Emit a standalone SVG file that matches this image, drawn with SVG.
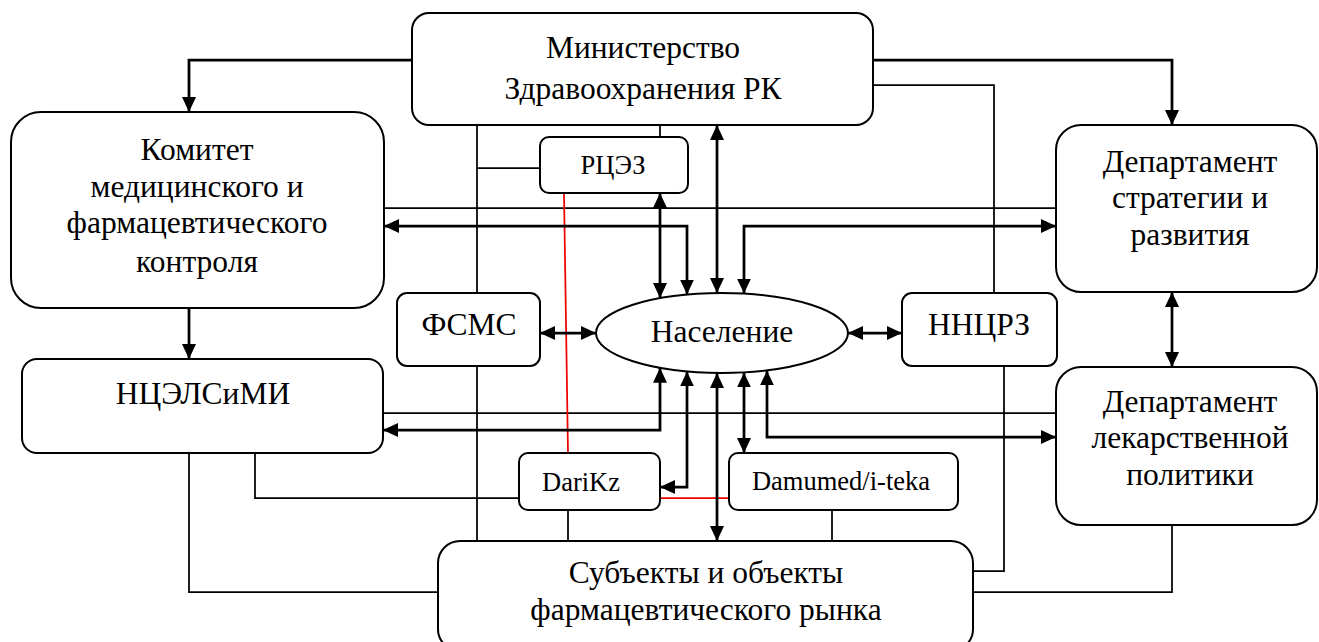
<svg xmlns="http://www.w3.org/2000/svg" width="1319" height="642" viewBox="0 0 1319 642">
<defs>
<marker id="ah" markerUnits="userSpaceOnUse" markerWidth="16" markerHeight="14" refX="15" refY="7" orient="auto-start-reverse" viewBox="0 0 16 14">
<path d="M0,0 L15,7 L0,14 z" fill="#000"/>
</marker>
</defs>
<style>
.box{fill:#fff;stroke:#000;stroke-width:2}
.t{font-family:"Liberation Serif","Times New Roman",serif;font-size:31.5px;fill:#000;text-anchor:middle}
.s{font-family:"Liberation Serif","Times New Roman",serif;font-size:26.5px;fill:#000;text-anchor:middle}
.thin{fill:none;stroke:#000;stroke-width:1.75}
.thick{fill:none;stroke:#000;stroke-width:2.75}
.red{fill:none;stroke:#e00;stroke-width:1.75}
.a2{marker-start:url(#ah);marker-end:url(#ah)}
.a1{marker-end:url(#ah)}
</style>
<rect width="1319" height="642" fill="#fff"/>
<g id="connectors">
<!-- thin lines -->
<path class="thin" d="M873,85 H994 V293"/>
<path class="thin" d="M477,125 V293"/>
<path class="thin" d="M477,168 H540"/>
<path class="thin" d="M660,125 V137"/>
<path class="thin" d="M384,208 H1056"/>
<path class="thin" d="M383,413 H1056"/>
<path class="thin" d="M477,366 V541"/>
<path class="thin" d="M189,453 V592 H438"/>
<path class="thin" d="M255,453 V498 H519"/>
<path class="thin" d="M568,510 V541"/>
<path class="thin" d="M832,510 V541"/>
<path class="thin" d="M1004,366 V571 H973"/>
<path class="thin" d="M1172,525 V592 H973"/>
<!-- red lines -->
<path class="red" d="M564,193 L568,453"/>
<path class="red" d="M660,498 H729"/>
<!-- thick arrows -->
<path class="thick a1" d="M412,60 H189 V112"/>
<path class="thick a1" d="M873,60 H1172 V125"/>
<path class="thick a1" d="M189,308 V359"/>
<path class="thick a2" d="M1172,292 V367"/>
<path class="thick a2" d="M540,333 H596"/>
<path class="thick a2" d="M848,333 H902"/>
<path class="thick a2" d="M660,193 V298"/>
<path class="thick a2" d="M384,226 H687 V294.6"/>
<path class="thick a2" d="M717,125 V293"/>
<path class="thick a2" d="M744,293.6 V226 H1056"/>
<path class="thick a2" d="M383,430 H660 V367.8"/>
<path class="thick a2" d="M660,487 H687 V371.4"/>
<path class="thick a2" d="M717,541 V373"/>
<path class="thick a2" d="M744,453 V372.4"/>
<path class="thick a2" d="M767,370.4 V437 H1056"/>
</g>
<g id="ministry">
<rect class="box" x="412" y="13" width="461" height="112" rx="17"/>
<text class="t" x="643" y="58">Министерство</text>
<text class="t" x="643" y="99">Здравоохранения РК</text>
</g>
<g id="komitet">
<rect class="box" x="11" y="112" width="373" height="196" rx="30"/>
<text class="t" x="197" y="160">Комитет</text>
<text class="t" x="197" y="197">медицинского и</text>
<text class="t" x="197" y="233">фармацевтического</text>
<text class="t" x="197" y="272">контроля</text>
</g>
<g id="dept-strategy">
<rect class="box" x="1056" y="125" width="261" height="167" rx="25"/>
<text class="t" x="1190" y="172">Департамент</text>
<text class="t" x="1190" y="208">стратегии и</text>
<text class="t" x="1190" y="245">развития</text>
</g>
<g id="nceлsimi">
<rect class="box" x="22" y="359" width="361" height="94" rx="15"/>
<text class="t" x="203" y="404">НЦЭЛСиМИ</text>
</g>
<g id="dept-drug">
<rect class="box" x="1056" y="367" width="261" height="158" rx="25"/>
<text class="t" x="1190" y="412">Департамент</text>
<text class="t" x="1190" y="448">лекарственной</text>
<text class="t" x="1190" y="485">политики</text>
</g>
<g id="rcez">
<rect class="box" x="540" y="137" width="148" height="56" rx="9"/>
<text class="s" x="613" y="174">РЦЭЗ</text>
</g>
<g id="fsms">
<rect class="box" x="397" y="293" width="143" height="73" rx="10"/>
<text class="t" x="469" y="335">ФСМС</text>
</g>
<g id="population">
<ellipse class="box" cx="722" cy="333" rx="126" ry="40"/>
<text class="t" x="722" y="342">Население</text>
</g>
<g id="nncrz">
<rect class="box" x="902" y="293" width="155" height="73" rx="10"/>
<text class="t" x="979" y="335">ННЦРЗ</text>
</g>
<g id="darikz">
<rect class="box" x="519" y="453" width="141" height="57" rx="9"/>
<text class="s" x="581" y="491">DariKz</text>
</g>
<g id="damumed">
<rect class="box" x="729" y="453" width="229" height="57" rx="9"/>
<text class="s" x="841" y="490">Damumed/i-teka</text>
</g>
<g id="subjects">
<rect class="box" x="438" y="541" width="535" height="110" rx="22"/>
<text class="t" x="706" y="583">Субъекты и объекты</text>
<text class="t" x="706" y="620">фармацевтического рынка</text>
</g>
</svg>
